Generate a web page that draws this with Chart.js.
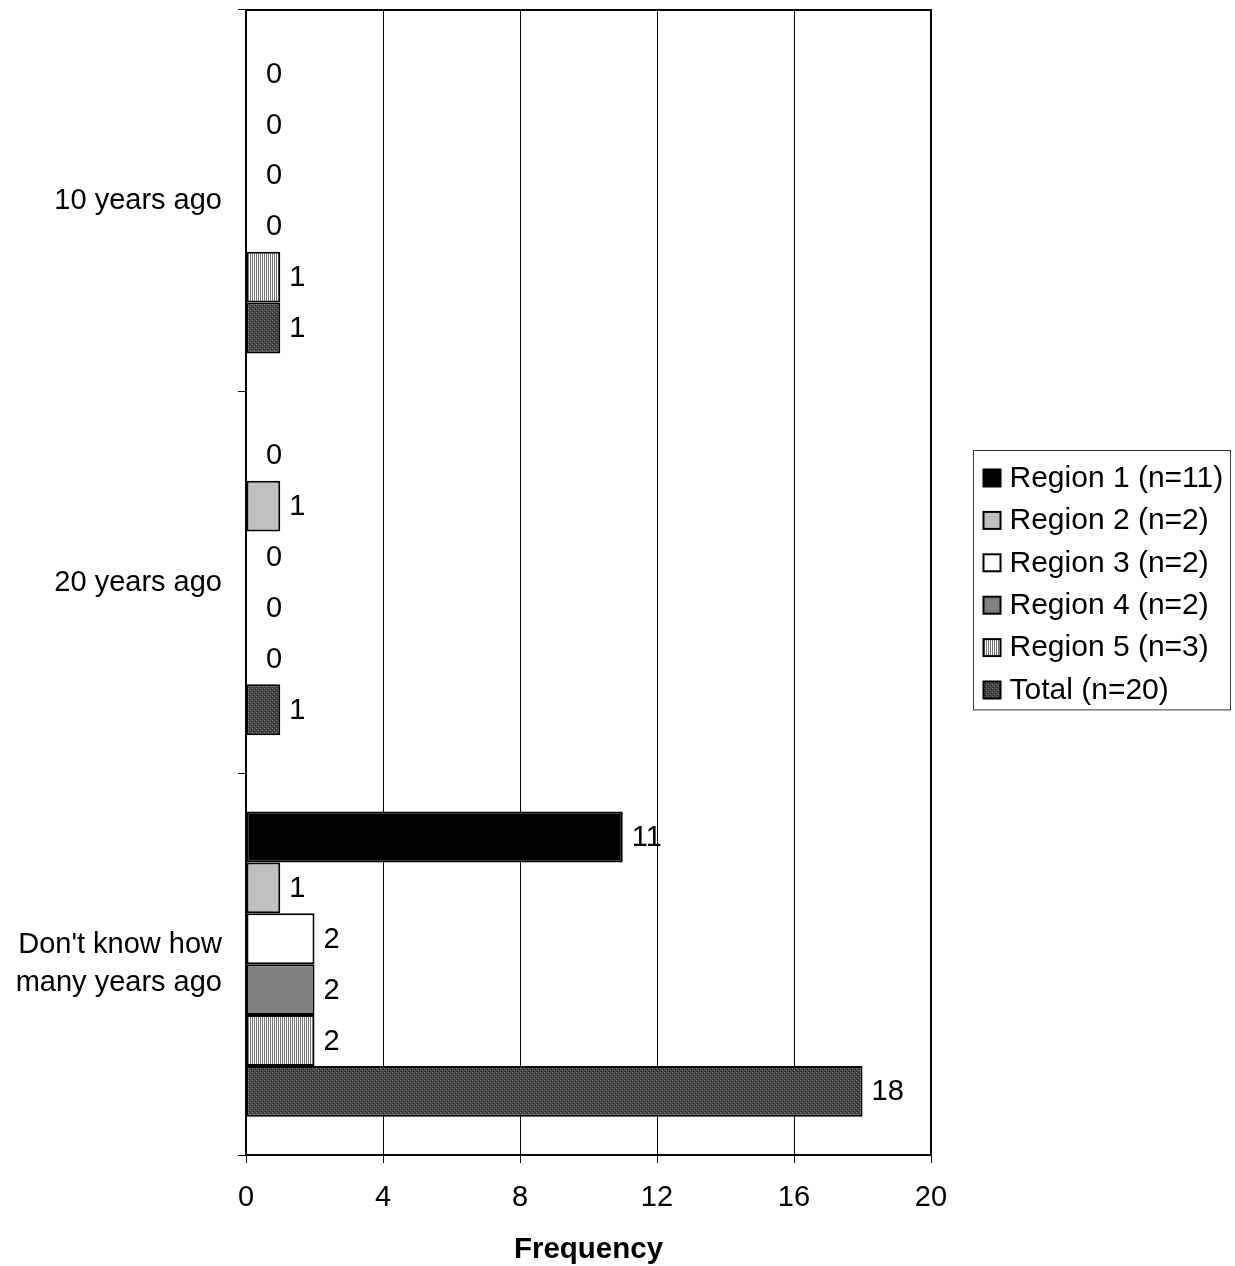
<!doctype html>
<html lang="en">

<head>
	<meta charset="utf-8">
	<title></title>
	<style>
		* {
			margin: 0;
			padding: 0;
		}

		body {
			background: #fff;
		}

		.chartBox {
			width: 1235px;
			height: 1266px;
		}
	</style>
</head>

<body>
	<div class="chartBox">
		<canvas id="freqChart"></canvas>
	</div>
	<script src="https://cdn.jsdelivr.net/npm/chart.js"></script>
	<script>
		const categories = ['10 years ago', '20 years ago', ["Don't know how", 'many years ago']];
		const seriesNames = ['Region 1 (n=11)', 'Region 2 (n=2)', 'Region 3 (n=2)', 'Region 4 (n=2)', 'Region 5 (n=3)', 'Total (n=20)'];
		const region1 = [0, 0, 11];
		const region2 = [0, 1, 1];
		const region3 = [0, 0, 2];
		const region4 = [0, 0, 2];
		const region5 = [1, 0, 2];
		const total = [1, 1, 18];
		const xMin = 0;
		const xMax = 20;
		const xStep = 4;
		const axisTitle = 'Frequency';

		const FONT = '"Liberation Sans", Arial, sans-serif';

		// hatch fills like the old excel ones
		function stripes() {
			const c = document.createElement('canvas');
			c.width = 2; c.height = 2;
			const g = c.getContext('2d');
			g.fillStyle = '#ffffff';
			g.fillRect(0, 0, 2, 2);
			g.fillStyle = '#707070';
			g.fillRect(0, 0, 1, 2);
			return g.createPattern(c, 'repeat');
		}

		function darkHatch() {
			const c = document.createElement('canvas');
			c.width = 4; c.height = 4;
			const g = c.getContext('2d');
			g.fillStyle = '#444444';
			g.fillRect(0, 0, 4, 4);
			g.fillStyle = '#808080';
			g.fillRect(0, 0, 1, 1);
			g.fillRect(2, 2, 1, 1);
			g.fillStyle = '#2a2a2a';
			g.fillRect(1, 3, 1, 1);
			g.fillRect(3, 1, 1, 1);
			return g.createPattern(c, 'repeat');
		}

		const fills = ['#000000', '#c0c0c0', '#ffffff', '#808080', stripes(), darkHatch()];
		const seriesData = [region1, region2, region3, region4, region5, total];

		const data = {
			labels: categories,
			datasets: seriesData.map((d, i) => ({
				label: seriesNames[i],
				data: d,
				backgroundColor: fills[i],
				borderColor: '#000',
				borderWidth: 2,
				borderSkipped: false,
				categoryPercentage: 0.8,
				barPercentage: 1.0
			}))
		};

		// value next to every bar (zeros too)
		const valueLabels = {
			id: 'valueLabels',
			afterDatasetsDraw(chart) {
				const ctx = chart.ctx;
				ctx.save();
				ctx.font = '29px ' + FONT;
				ctx.fillStyle = '#000';
				ctx.textBaseline = 'middle';
				ctx.textAlign = 'left';
				chart.data.datasets.forEach((ds, i) => {
					chart.getDatasetMeta(i).data.forEach((bar, j) => {
						const v = ds.data[j];
						const gap = v === 0 ? 20 : 9;
						ctx.fillText(String(v), bar.x + gap, bar.y + 1);
					});
				});
				ctx.restore();
			}
		};

		// top/right frame of the plot + boxed legend on the right
		const frameAndLegend = {
			id: 'frameAndLegend',
			afterDraw(chart) {
				const ctx = chart.ctx;
				const a = chart.chartArea;
				ctx.save();
				ctx.strokeStyle = '#000';
				ctx.lineWidth = 2;
				ctx.strokeRect(a.left, a.top, a.right - a.left, a.bottom - a.top);

				const rowH = 42.4;
				const boxW = 257;
				const boxH = rowH * seriesNames.length + 5;
				const bx = a.right + 42.5;
				const by = Math.round((a.top + a.bottom) / 2 - boxH / 2) - 2.5;
				ctx.lineWidth = 1;
				ctx.strokeStyle = '#333';
				ctx.strokeRect(bx, by, boxW, boxH);

				ctx.font = '30px ' + FONT;
				ctx.textBaseline = 'middle';
				ctx.fillStyle = '#000';
				seriesNames.forEach((name, i) => {
					const cy = by + 27 + i * rowH;
					ctx.fillStyle = fills[i];
					ctx.fillRect(bx + 10, cy - 8, 17, 17);
					ctx.strokeStyle = '#000';
					ctx.lineWidth = 2;
					ctx.strokeRect(bx + 10, cy - 8, 17, 17);
					ctx.fillStyle = '#000';
					ctx.fillText(name, bx + 36, cy + 1);
				});
				ctx.restore();
			}
		};

		const config = {
			type: 'bar',
			data,
			options: {
				indexAxis: 'y',
				responsive: true,
				maintainAspectRatio: false,
				animation: false,
				layout: {
					padding: { left: 0, right: 304, top: 10, bottom: 0 }
				},
				scales: {
					x: {
						min: xMin,
						max: xMax,
						ticks: {
							stepSize: xStep,
							color: '#000',
							font: { family: FONT, size: 29 },
							padding: 18,
							maxRotation: 0
						},
						grid: {
							color: '#000',
							lineWidth: 1,
							tickLength: 8
						},
						border: { color: '#000', width: 2 },
						title: {
							display: true,
							text: axisTitle,
							color: '#000',
							font: { family: FONT, size: 29.5, weight: 'bold' },
							padding: { top: 0, bottom: -2 }
						},
						afterFit(scale) {
							scale.height = 111;
							scale.paddingLeft = 0;
							scale.paddingRight = 0;
						}
					},
					y: {
						ticks: {
							color: '#000',
							font: { family: FONT, size: 29, lineHeight: 1.31 },
							padding: 16
						},
						grid: {
							offset: true,
							drawOnChartArea: false,
							color: '#000',
							lineWidth: 1,
							tickLength: 8
						},
						border: { color: '#000', width: 2 },
						afterFit(scale) {
							scale.width = 246;
							scale.paddingTop = 0;
							scale.paddingBottom = 0;
						}
					}
				},
				plugins: {
					legend: { display: false },
					tooltip: { enabled: false }
				}
			},
			plugins: [valueLabels, frameAndLegend]
		};

		const freqChart = new Chart(
			document.getElementById('freqChart'),
			config
		);
	</script>
</body>

</html>
